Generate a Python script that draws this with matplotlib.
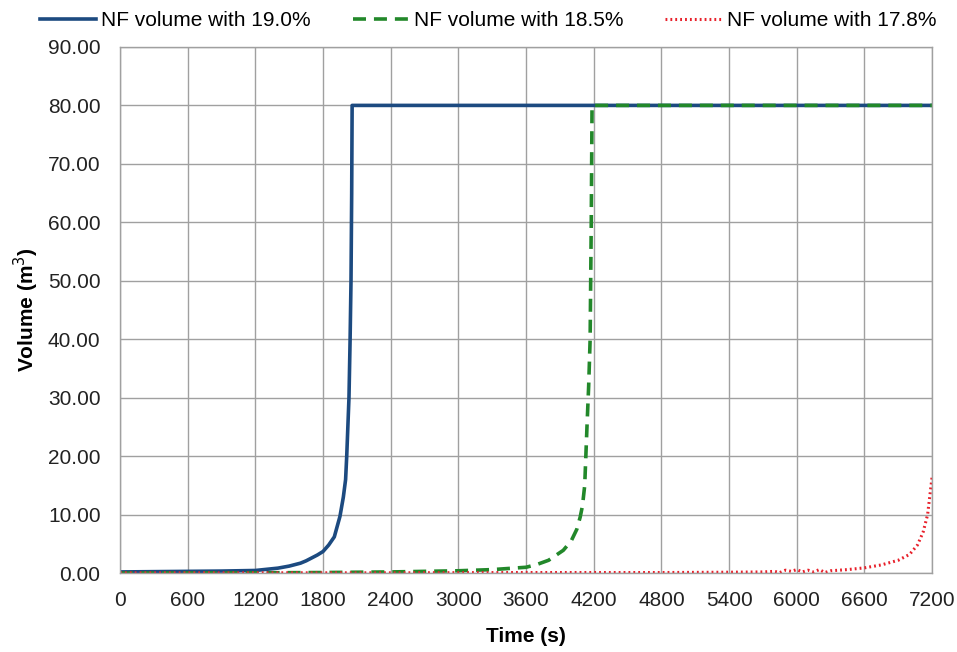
import numpy as np
import matplotlib
matplotlib.use('Agg')
import matplotlib.pyplot as plt
from matplotlib.ticker import FormatStrFormatter

# --- DADOS ---
tempo_190 = [0, 300, 600, 900, 1200, 1400, 1500, 1600, 1650, 1700, 1750, 1800, 1850,
             1900, 1950, 1980, 2000, 2010, 2020, 2030, 2040, 2048, 2054, 2058, 7200]
volume_190 = [0.2, 0.25, 0.3, 0.35, 0.45, 0.85, 1.2, 1.7, 2.1, 2.6, 3.1, 3.7, 4.8,
              6.2, 9.7, 13.0, 16.0, 20.0, 25.0, 30.0, 40.0, 50.0, 65.0, 80.0, 80.0]

tempo_185 = [0, 600, 1200, 1800, 2400, 3000, 3300, 3600, 3700, 3800, 3930, 4000, 4050,
             4080, 4100, 4120, 4130, 4140, 4155, 4168, 4178, 4185, 7200]
volume_185 = [0.0, 0.02, 0.05, 0.1, 0.2, 0.4, 0.6, 1.0, 1.5, 2.2, 3.9, 5.5, 7.5,
              9.6, 11.5, 15.0, 20.0, 25.0, 32.0, 40.0, 60.0, 80.0, 80.0]

tempo_178 = [0, 1200, 2400, 3600, 4800, 5400, 5700, 5800, 5850, 5900, 5950, 6000, 6050,
             6100, 6150, 6200, 6250, 6300, 6450, 6600, 6750, 6900, 7000, 7070, 7120,
             7160, 7200]
volume_178 = [0.05, 0.05, 0.05, 0.1, 0.1, 0.15, 0.2, 0.3, 0.1, 0.5, 0.3, 0.6, 0.2,
              0.5, 0.2, 0.6, 0.1, 0.4, 0.6, 0.9, 1.4, 2.2, 3.2, 4.8, 7.0, 10.0, 16.5]

rotulos = ['NF volume with 19.0%', 'NF volume with 18.5%', 'NF volume with 17.8%']

plt.rcParams['font.family'] = ['Liberation Sans', 'DejaVu Sans']

fig = plt.figure(figsize=(9.57, 6.52), dpi=100)
ax = fig.add_axes([0.1254, 0.121, 0.8486, 0.807])

ax.plot(tempo_190, volume_190, '-', color='#1c4a80', lw=2.6, label=rotulos[0])
ax.plot(tempo_185, volume_185, '--', color='#22882a', lw=2.6, dashes=(3.6, 2.2),
        label=rotulos[1])
ax.plot(tempo_178, volume_178, ':', color='#e8202a', lw=2.2, dashes=(0.6, 1.0),
        label=rotulos[2])

ax.set_xlim(0, 7200)
ax.set_ylim(0, 90)
ax.set_xticks(np.arange(0, 7201, 600))
ax.set_yticks(np.arange(0, 91, 10))
ax.yaxis.set_major_formatter(FormatStrFormatter('%.2f'))
ax.tick_params(length=0, labelsize=15, colors='#222222')
ax.tick_params(axis='x', pad=13)
ax.tick_params(axis='y', pad=14)
ax.grid(True, color='#a0a0a0', lw=1.0)
ax.set_axisbelow(True)
for spine in ax.spines.values():
    spine.set_color('#a0a0a0')
    spine.set_linewidth(1.0)

ax.set_xlabel('Time (s)', fontsize=15, fontweight='bold', labelpad=12)
ax.set_ylabel('Volume (m$^3$)', fontsize=15, fontweight='bold', labelpad=5)

fig.legend(loc='center', bbox_to_anchor=(0.51, 0.968), ncol=3, frameon=False,
           fontsize=15, handlelength=2.7, columnspacing=2.0, handletextpad=0.25,
           borderaxespad=0.0)

fig.savefig('out.png', dpi=100)
